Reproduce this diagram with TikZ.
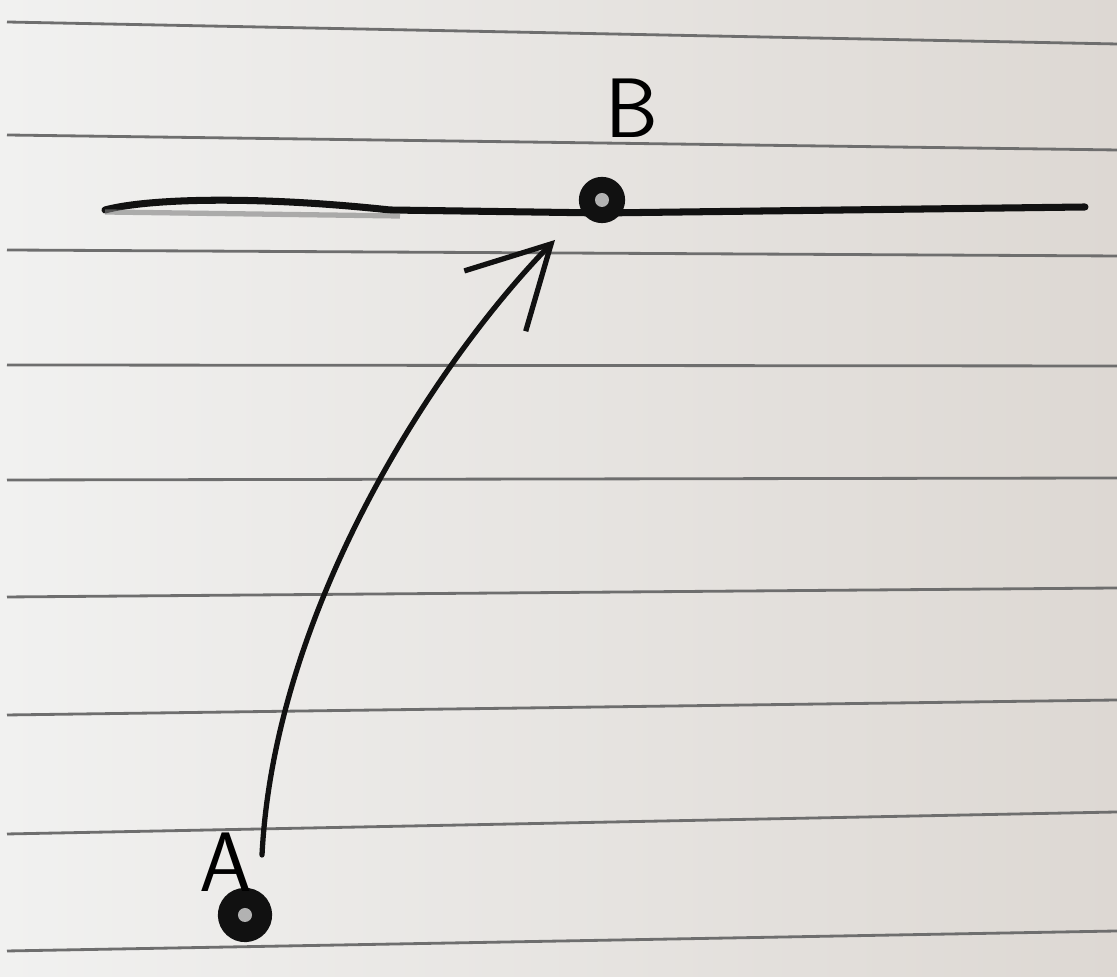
\documentclass[tikz,border=0pt]{standalone}
\usepackage{xcolor}
\usepackage{tikz}
\usetikzlibrary{arrows.meta,positioning,calc}
\definecolor{Paper}{HTML}{F1F1F0}
\definecolor{PaperR}{HTML}{DDD8D3}
\definecolor{Rule}{HTML}{6E6E6E}
\definecolor{Ink}{HTML}{111111}

\begin{document}
\begin{tikzpicture}[x=0.01cm,y=-0.01cm,font=\sffamily\fontsize{24}{28}\selectfont,
  rule/.style={draw=Rule,line width=0.8pt},
  pen/.style={draw=Ink,line width=1.8pt,line cap=round},
  pt/.style={circle,fill=Ink,draw=Ink,line width=1.2pt,inner sep=0pt,minimum size=4.2mm,
    path picture={\fill[gray!60] (path picture bounding box.center) circle (0.7mm);}}]
  \useasboundingbox (0,0) rectangle (1117,977);
  \shade[left color=Paper,right color=PaperR] (0,0) rectangle (1117,977);
  % ruled paper
  \foreach \l/\r in {22/44,135/150,250/256,365/366,480/478,597/588,715/700,834/812,951/931}
    \draw[rule] (7,\l) -- (1117,\r);
  % the line and its point
  \draw[pen,line width=2pt] (105,210) .. controls (150,198) and (260,196) .. (390,210) -- (602,213) -- (1085,207);
  \draw[draw=gray,line width=1.5pt,opacity=.6] (105,212) -- (400,216);
  \node[pt] (B) at (602,200) {};
  \node (labB) at (632,108) {B};
  \node[pt,minimum width=5mm,minimum height=4.4mm,rotate=25] (A) at (245,915) {};
  \node (labA) at (226,862) {A};
  % path from A towards B
  \coordinate (start) at (262,855);
  \coordinate (tip) at (555,240);
  \draw[pen,line width=1.5pt,-{Straight Barb[length=8mm,width=8.6mm]}] (start) .. controls (275,600) and (445,352) .. (tip);
\end{tikzpicture}
\end{document}
